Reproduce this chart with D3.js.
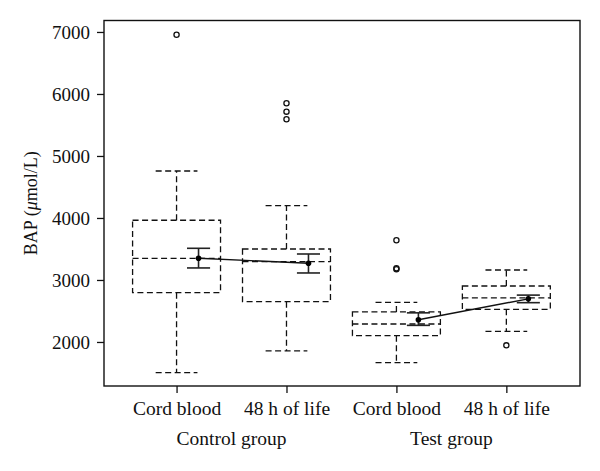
<!DOCTYPE html>
<html>
<head>
<meta charset="utf-8">
<script src="https://cdn.jsdelivr.net/npm/d3@7"></script>
<style>
  html, body { margin: 0; padding: 0; background: #fff; }
  svg { display: block; }
  text { font-family: "Liberation Serif", "DejaVu Serif", serif; fill: #111; }
</style>
</head>
<body>
<svg id="chart" width="600" height="471"></svg>
<script>
// ---- data ----
const categories = ["Cord blood", "48 h of life", "Cord blood", "48 h of life"];
const groups = ["Control group", "Test group"];
const groupOf = [0, 0, 1, 1];
const whiskerLow = [1505, 1855, 1666, 2172];
const q1 = [2795, 2650, 2102, 2527];
const median = [3350, 3296, 2290, 2710];
const q3 = [3963, 3500, 2484, 2903];
const whiskerHigh = [4758, 4198, 2640, 3161];
const outliers = [[6956], [5850, 5715, 5592], [3640, 3190, 3175], [1946]];
const means = [3350, 3269, 2358, 2696];
const ciLow = [3194, 3113, 2268, 2634];
const ciHigh = [3511, 3419, 2470, 2756];
const yTicks = [2000, 3000, 4000, 5000, 6000, 7000];

// ---- layout ----
const svg = d3.select("#chart");
const mLeft = 104, mRight = 580, mTop = 20.5, mBottom = 386;
const x = d3.scaleLinear().domain([0.34, 4.67]).range([mLeft, mRight]);
const y = d3.scaleLinear().domain([1290, 7185]).range([mBottom, mTop]);
const boxHalf = 0.4, capHalf = 0.19, meanOff = 0.2, ciCapHalf = 0.105;
const dash = "6,3.5";
const lw = 1.3;

const g = svg.append("g");

// boxes
categories.forEach((c, i) => {
  const cx = i + 1;
  const bg = g.append("g").attr("fill", "none").attr("stroke", "#111")
    .attr("stroke-width", lw).attr("stroke-dasharray", dash);
  bg.append("rect")
    .attr("x", x(cx - boxHalf)).attr("y", y(q3[i]))
    .attr("width", x(cx + boxHalf) - x(cx - boxHalf))
    .attr("height", y(q1[i]) - y(q3[i]));
  bg.append("line").attr("x1", x(cx - boxHalf)).attr("x2", x(cx + boxHalf))
    .attr("y1", y(median[i])).attr("y2", y(median[i]));
  bg.append("line").attr("x1", x(cx)).attr("x2", x(cx))
    .attr("y1", y(q3[i])).attr("y2", y(whiskerHigh[i]));
  bg.append("line").attr("x1", x(cx)).attr("x2", x(cx))
    .attr("y1", y(q1[i])).attr("y2", y(whiskerLow[i]));
  [whiskerHigh[i], whiskerLow[i]].forEach(v => {
    bg.append("line").attr("x1", x(cx - capHalf)).attr("x2", x(cx + capHalf))
      .attr("y1", y(v)).attr("y2", y(v));
  });
  outliers[i].forEach(v => {
    g.append("circle").attr("cx", x(cx)).attr("cy", y(v)).attr("r", 2.6)
      .attr("fill", "none").attr("stroke", "#111").attr("stroke-width", 1.3);
  });
});

// mean lines per group
groups.forEach((gr, k) => {
  const idx = categories.map((_, i) => i).filter(i => groupOf[i] === k);
  const line = d3.line().x(i => x(i + 1 + meanOff)).y(i => y(means[i]));
  g.append("path").attr("d", line(idx)).attr("fill", "none")
    .attr("stroke", "#111").attr("stroke-width", 1.4);
});

// CI bars and mean points
categories.forEach((c, i) => {
  const mx = i + 1 + meanOff;
  const eg = g.append("g").attr("stroke", "#222").attr("stroke-width", 1.6);
  eg.append("line").attr("x1", x(mx)).attr("x2", x(mx))
    .attr("y1", y(ciLow[i])).attr("y2", y(ciHigh[i]));
  [ciLow[i], ciHigh[i]].forEach(v => {
    eg.append("line").attr("x1", x(mx - ciCapHalf)).attr("x2", x(mx + ciCapHalf))
      .attr("y1", y(v)).attr("y2", y(v));
  });
  g.append("circle").attr("cx", x(mx)).attr("cy", y(means[i])).attr("r", 2.8)
    .attr("fill", "#000");
});

// frame
svg.append("rect").attr("x", mLeft).attr("y", mTop)
  .attr("width", mRight - mLeft).attr("height", mBottom - mTop)
  .attr("fill", "none").attr("stroke", "#111").attr("stroke-width", 1.4);

// y axis
const yAxis = d3.axisLeft(y).tickValues(yTicks).tickSize(7).tickPadding(7)
  .tickFormat(d3.format("d"));
const ya = svg.append("g").attr("transform", `translate(${mLeft},0)`).call(yAxis);
ya.select(".domain").remove();
ya.selectAll(".tick line").attr("stroke", "#111").attr("stroke-width", 1.3);
ya.selectAll(".tick text").style("font-size", "19px")
  .style("font-family", '"Liberation Serif", serif').attr("fill", "#111")
  .attr("dy", "0.34em");

// x axis
const xAxis = d3.axisBottom(x).tickValues([1, 2, 3, 4]).tickSize(7).tickPadding(8)
  .tickFormat((d) => categories[d - 1]);
const xa = svg.append("g").attr("transform", `translate(0,${mBottom})`).call(xAxis);
xa.select(".domain").remove();
xa.selectAll(".tick line").attr("stroke", "#111").attr("stroke-width", 1.3);
xa.selectAll(".tick text").style("font-size", "19.5px")
  .style("font-family", '"Liberation Serif", serif').attr("fill", "#111");

// group labels
groups.forEach((gr, k) => {
  const idx = categories.map((_, i) => i).filter(i => groupOf[i] === k);
  const cx = d3.mean(idx, i => x(i + 1));
  svg.append("text").attr("x", cx).attr("y", 445)
    .attr("text-anchor", "middle").style("font-size", "19.5px").text(gr);
});

// y label
const yl = svg.append("text")
  .attr("transform", `translate(37,${(mTop + mBottom) / 2}) rotate(-90)`)
  .attr("text-anchor", "middle").style("font-size", "18px");
yl.append("tspan").text("BAP (");
yl.append("tspan").style("font-style", "italic").text("μ");
yl.append("tspan").text("mol/L)");
</script>
</body>
</html>
